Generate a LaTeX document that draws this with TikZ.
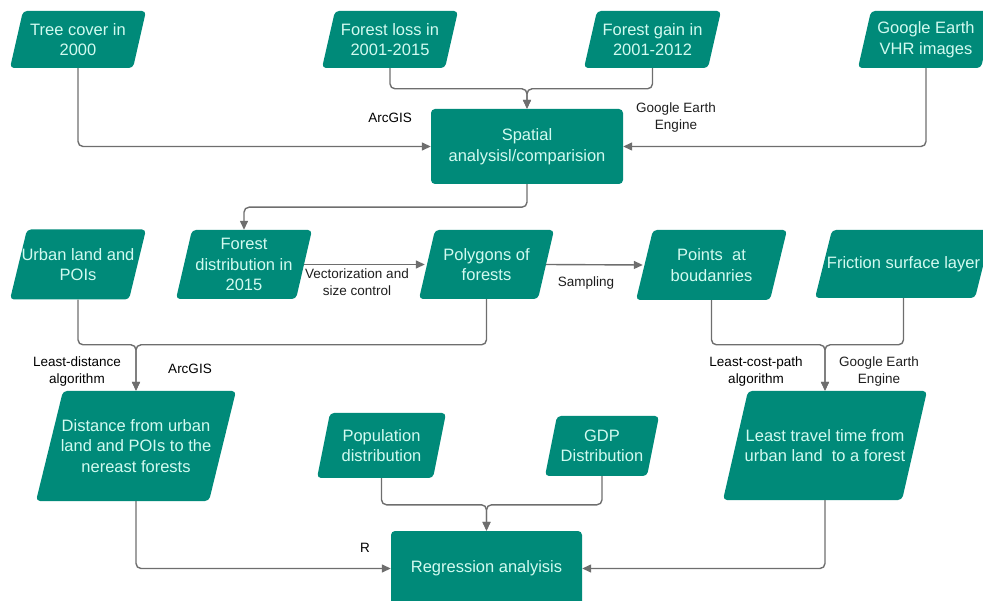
\documentclass[tikz,border=0pt]{standalone}
\usepackage{fontspec}
\setmainfont{Liberation Sans}
\usetikzlibrary{arrows.meta,calc}
\definecolor{boxfill}{HTML}{008A79}
\definecolor{boxtext}{HTML}{D2FAF0}
\definecolor{linegray}{HTML}{6E6E6E}
\definecolor{labtext}{HTML}{1E1E1E}
\tikzset{
  para/.style={inner sep=0pt, align=center, text=boxtext,
    font=\fontsize{16.5}{20.5}\selectfont,
    path picture={\fill[boxfill, rounded corners=4pt]
      (path picture bounding box.south west) --
      ([xshift=#1]path picture bounding box.north west) --
      (path picture bounding box.north east) --
      ([xshift=-#1]path picture bounding box.south east) -- cycle;}},
  procbox/.style={inner sep=0pt, align=center, text=boxtext, fill=boxfill,
    rounded corners=4pt, font=\fontsize{16.5}{20.5}\selectfont},
  lab/.style={align=center, text=labtext, inner sep=1pt,
    font=\fontsize{13.5}{17}\selectfont},
  conn/.style={draw=linegray, line width=1.4pt, rounded corners=5pt,
    -{Triangle[length=9pt,width=8pt]}},
}
\begin{document}
\begin{tikzpicture}[x=1pt,y=-1pt]
\useasboundingbox (0,0) rectangle (983,601);
% top row
\node[para=13, minimum width=136, minimum height=57] (tree) at (78,39.5) {Tree cover in\\2000};
\node[para=13, minimum width=136, minimum height=57] (loss) at (390,39.5) {Forest loss in\\2001-2015};
\node[para=13, minimum width=137, minimum height=57] (gain) at (652.5,39.5) {Forest gain in\\2001-2012};
\node[para=13, minimum width=136, minimum height=57] (vhr) at (926,39.5) {Google Earth\\VHR images};
\node[procbox, minimum width=192, minimum height=75] (spatial) at (527,146.5) {Spatial\\analysisl/comparision};
% middle row
\node[para=17, minimum width=136, minimum height=70] (urban) at (78,264.5) {Urban land and\\POIs};
\node[para=16, minimum width=136, minimum height=69] (fdist) at (244,264.5) {Forest\\distribution in\\2015};
\node[para=16, minimum width=135, minimum height=69] (poly) at (486.5,264.5) {Polygons of\\forests};
\node[para=17, minimum width=151, minimum height=70] (points) at (711.5,265) {Points\ \ at\\boudanries};
\node[para=17, minimum width=177, minimum height=68] (fric) at (903.5,264) {Friction surface layer};
% bottom row
\node[para=27, minimum width=200, minimum height=110] (dist) at (136,446) {Distance from urban\\land and POIs to the\\nereast forests};
\node[para=13, minimum width=129, minimum height=65] (pop) at (381.5,445.5) {Population\\distribution};
\node[para=12, minimum width=114, minimum height=60] (gdp) at (602,446) {GDP\\Distribution};
\node[para=25, minimum width=204, minimum height=109] (travel) at (825,445.5) {Least travel time from\\urban land\ \ to a forest};
\node[procbox, minimum width=191, minimum height=75] (reg) at (486.5,568.5) {Regression analyisis};
% labels
\node[lab, text=black] (l1) at (390,118) {ArcGIS};
\node[lab] (l2) at (676,118) {Google Earth\\Engine};
\node[lab] (l3) at (357,282) {Vectorization and\\size control};
\node[lab] (l4) at (586,283) {Sampling};
\node[lab, text=black] (l5) at (77,372) {Least-distance\\algorithm};
\node[lab, text=black] (l6) at (190,369) {ArcGIS};
\node[lab, text=black] (l7) at (756,372) {Least-cost-path\\algorithm};
\node[lab] (l8) at (879,372) {Google Earth\\Engine};
\node[lab, text=black] (l9) at (365,548) {R};
% merge points
\coordinate (m1) at ($(spatial.north)+(0,-20)$);
\coordinate (m2) at ($(dist.north)+(0,-46)$);
\coordinate (m3) at ($(travel.north)+(0,-46)$);
\coordinate (m4) at ($(reg.north)+(0,-26)$);
% connectors
\draw[conn] (tree.south) |- (spatial.west);
\draw[conn] (vhr.south) |- (spatial.east);
\draw[conn] (loss.south) |- (m1) -- (spatial.north);
\draw[conn] (gain.south) |- (m1) -- (spatial.north);
\draw[conn] (spatial.south) -- ++(0,23) -| (fdist.north);
\draw[conn] ([xshift=-8]fdist.east) -- ([xshift=6]poly.west);
\draw[conn] ([xshift=-8]poly.east) -- ([xshift=7]points.west);
\draw[conn] (urban.south) |- (m2) -- (dist.north);
\draw[conn] (poly.south) |- (m2) -- (dist.north);
\draw[conn] (points.south) |- (m3) -- (travel.north);
\draw[conn] (fric.south) |- (m3) -- (travel.north);
\draw[conn] (dist.south) |- (reg.west);
\draw[conn] (pop.south) |- (m4) -- (reg.north);
\draw[conn] (gdp.south) |- (m4) -- (reg.north);
\draw[conn] (travel.south) |- (reg.east);
\end{tikzpicture}
\end{document}
